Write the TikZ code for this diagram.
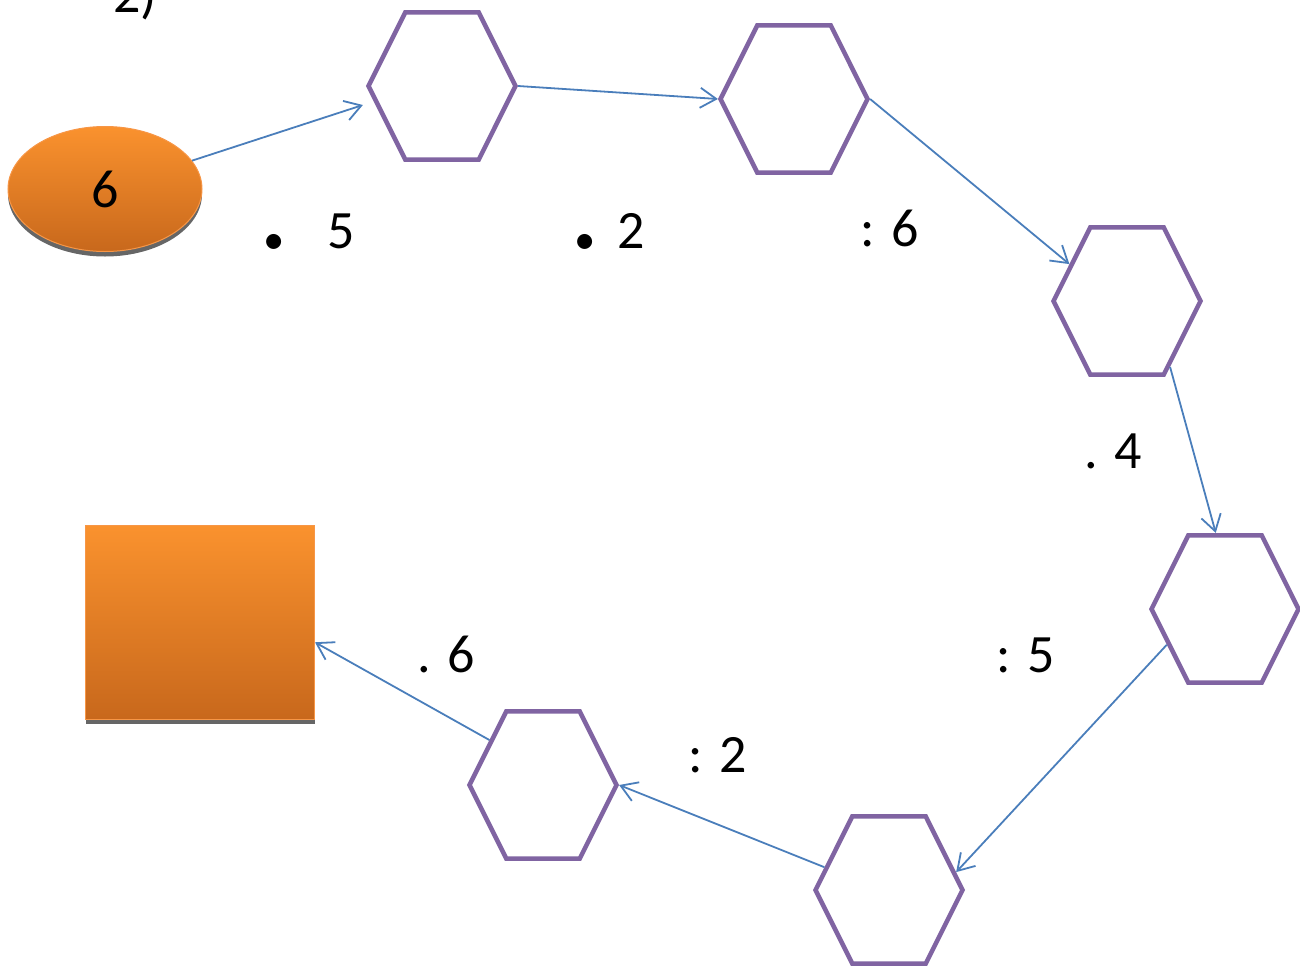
\documentclass[tikz,border=0pt]{standalone}
\usepackage{fontspec}
\setmainfont{Carlito}
\usetikzlibrary{arrows.meta,shapes.geometric,shadows}
\definecolor{hexline}{HTML}{8064A2}
\definecolor{arrowblue}{HTML}{4A7EBB}
\definecolor{orangetop}{HTML}{FA922E}
\definecolor{orangebot}{HTML}{C8681C}
\definecolor{orangeedge}{HTML}{F79646}
\newcommand{\bigdot}{{\fontsize{124}{124}\selectfont.}}

\begin{document}
\begin{tikzpicture}[x=1pt,y=-1pt,
	hexa/.style={regular polygon,regular polygon sides=6,minimum size=147pt,inner sep=0pt,yscale=1.155,draw=hexline,line width=4.5pt},
	lbl/.style={inner sep=0pt,font=\fontsize{54}{60}\selectfont},
	link/.style={draw=arrowblue,line width=1.8pt,-{Straight Barb[length=16pt,width=20pt]}},
	blob/.style={top color=orangetop,bottom color=orangebot,draw=orangeedge,line width=1pt,drop shadow={shadow xshift=0pt,shadow yshift=-5pt,fill=gray!80!black,opacity=1}}]
	\clip (0,0) rectangle (1300,967);
	% start and goal
	\node[lbl,anchor=base east] (tag) at (157,12) {2)};
	\node[blob,ellipse,minimum width=194pt,minimum height=125pt,lbl] (start) at (105,189) {6};
	\node[blob,rectangle,minimum width=229pt,minimum height=194pt] (goal) at (200,622) {};
	% the chain
	\node[hexa] (h1) at (442,86) {};
	\node[hexa] (h2) at (794,99) {};
	\node[hexa] (h3) at (1127,301) {};
	\node[hexa] (h4) at (1225,609) {};
	\node[hexa] (h5) at (889,890) {};
	\node[hexa] (h6) at (543,785) {};
	% operations
	\node[lbl,anchor=base west] (m5) at (258,248) {\bigdot\hspace{38pt}5};
	\node[lbl,anchor=base west] (m2) at (569,248) {\bigdot\hspace{17pt}2};
	\node[lbl,anchor=base east] (d6) at (919,246) {: 6};
	\node[lbl,anchor=base east] (m4) at (1142,468) {. 4};
	\node[lbl,anchor=base east] (d5) at (1055,672) {: 5};
	\node[lbl,anchor=base east] (m6) at (475,672) {. 6};
	\node[lbl,anchor=base east] (d2) at (747,772) {: 2};
	% arrows
	\draw[link] (start) -- ([shift={(-3,19)}]h1.west);
	\draw[link] (h1.east) -- (h2.west);
	\draw[link] (h2.east) -- (h3.151);
	\draw[link] (h3.-53) -- (h4.98);
	\draw[link] (h4.208) -- (h5.13);
	\draw[link] (h5.163) -- (h6.east);
	\draw[link] (h6.144) -- (goal.-10);
\end{tikzpicture}
\end{document}
